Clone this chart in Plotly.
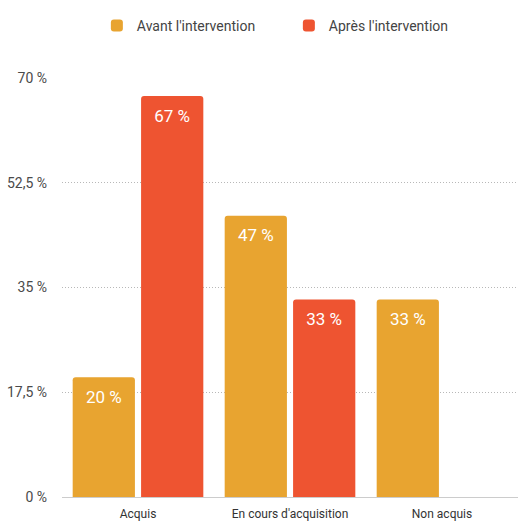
import plotly.graph_objects as go

categories = ["Acquis", "En cours d'acquisition", "Non acquis"]
avant = [20, 47, 33]
apres = [67, 33, 0]
series_names = ["Avant l'intervention", "Après l'intervention"]
colors = ["#E8A430", "#EE5431"]
y_ticks = [0, 17.5, 35, 52.5, 70]
y_tick_text = ["0 %", "17,5 %", "35 %", "52,5 %", "70 %"]

FONT = "Roboto, Arial, sans-serif"

def labels(vals):
    return [f"{v:.0f} %" if v else "" for v in vals]

fig = go.Figure()
for i, (name, vals, col) in enumerate(zip(series_names, [avant, apres], colors)):
    fig.add_trace(go.Bar(
        x=categories, y=vals, name=name, offsetgroup=str(i),
        marker=dict(color=col, cornerradius=3, line=dict(width=0)),
    ))
for i, vals in enumerate([avant, apres]):
    fig.add_trace(go.Scatter(
        x=categories, y=vals, mode="markers+text", offsetgroup=str(i),
        marker=dict(size=19, color="rgba(0,0,0,0)"),
        text=labels(vals), textposition="bottom center",
        textfont=dict(color="white", size=17, family=FONT),
        showlegend=False, hoverinfo="skip",
    ))

fig.update_layout(
    width=518, height=522,
    margin=dict(l=62, r=0, t=78, b=25),
    paper_bgcolor="white", plot_bgcolor="white",
    barmode="group", bargap=0.1, bargroupgap=0.09,
    scattermode="group", scattergap=0.1,
    font=dict(family=FONT, color="#444444", size=13),
    showlegend=True,
    legend=dict(orientation="h", x=0.187, xanchor="left", xref="container",
                y=0.981, yanchor="top", yref="container",
                font=dict(size=14, color="#444444"), entrywidth=147,
                itemwidth=30),
    yaxis=dict(range=[0, 70], tickvals=y_ticks, ticktext=y_tick_text,
               showgrid=True, gridcolor="#b8b8b8", griddash="1px,2px", gridwidth=1,
               zeroline=True, zerolinecolor="#cccccc", zerolinewidth=1,
               tickfont=dict(size=14, color="#4a4a4a"), ticklabelstandoff=14,
               fixedrange=True),
    xaxis=dict(tickfont=dict(size=12, color="#333333"), showline=False,
               ticks="", fixedrange=True, ticklabelstandoff=8),
)

fig.write_html("out.html")
